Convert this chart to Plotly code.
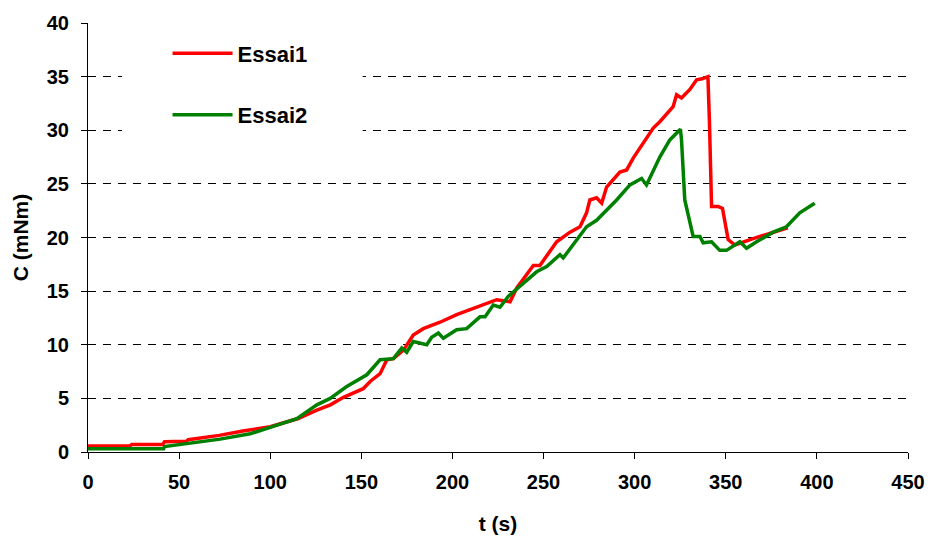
import plotly.graph_objects as go

# Essai1 (red)
t1 = [0, 23, 24, 41, 42, 54, 55, 72, 85, 100, 107, 115, 125.6, 133, 140.2, 151, 155,
      160.3, 164, 167.6, 173.1, 178.5, 184, 193.2, 202.3, 213.3, 220.6, 224.3, 231.6,
      235.3, 244.4, 248, 257.2, 264.5, 270, 273.6, 275.4, 279.1, 281.9, 284.6, 291.9,
      295.6, 299.2, 304.7, 310.2, 313.8, 321.1, 323, 325.7, 330.3, 334, 337, 340.2,
      341, 341.5, 342.2, 345.8, 348.2, 351.3, 355, 365, 376, 384]
c1 = [0.55, 0.55, 0.7, 0.7, 0.95, 1.0, 1.15, 1.55, 1.95, 2.35, 2.7, 3.1, 3.9, 4.4, 5.1,
      5.9, 6.6, 7.3, 8.6, 8.7, 9.5, 10.9, 11.5, 12.1, 12.8, 13.5, 14.0, 14.2, 14.0,
      15.3, 17.4, 17.4, 19.6, 20.5, 21.0, 22.3, 23.5, 23.7, 23.2, 24.7, 26.1,
      26.3, 27.4, 28.8, 30.2, 30.8, 32.2, 33.3, 33.0, 33.8, 34.7, 34.8, 35.0,
      31.0, 26.0, 22.9, 22.9, 22.7, 19.8, 19.3, 19.9, 20.5, 20.9]

# Essai2 (green)
t2 = [0, 41.5, 42, 54.3, 72.5, 89, 100, 114.6, 125.6, 132.9, 142, 153, 160.3, 167.6,
      172.2, 174.9, 178.5, 185.9, 188.6, 192.3, 195, 202.3, 207.8, 215.1, 217.9, 222.4,
      226.1, 230.6, 235.3, 246.2, 251.7, 259, 260.8, 273.6, 279.1, 290.1, 297.4, 303.8,
      306.5, 310.2, 313.8, 319.3, 325.1, 325.7, 327.5, 332.1, 335.8, 337.6, 342.2,
      346.7, 350.4, 357.7, 361.4, 366.9, 376, 383.3, 390.6, 398.8]
c2 = [0.3, 0.3, 0.5, 0.78, 1.2, 1.7, 2.3, 3.1, 4.4, 5.0, 6.1, 7.2, 8.6, 8.7,
      9.7, 9.3, 10.3, 10.0, 10.7, 11.1, 10.6, 11.4, 11.5, 12.6, 12.6, 13.7,
      13.5, 14.5, 15.2, 16.8, 17.3, 18.4, 18.1, 21.0, 21.6, 23.5, 24.9, 25.5,
      24.9, 26.3, 27.5, 29.1, 30.1, 29.1, 23.5, 20.1, 20.1, 19.5, 19.6,
      18.8, 18.8, 19.6, 19.0, 19.6, 20.5, 21.0, 22.3, 23.2]

x_ticks = [0, 50, 100, 150, 200, 250, 300, 350, 400, 450]
y_ticks = [0, 5, 10, 15, 20, 25, 30, 35, 40]

FONT = "Liberation Sans, Arial, sans-serif"

fig = go.Figure()
fig.add_trace(go.Scatter(x=t1, y=c1, mode="lines", name="Essai1", legendgroup="a",
                         line=dict(color="#FF0000", width=3.5)))
fig.add_trace(go.Scatter(x=t2, y=c2, mode="lines", name="Essai2", legendgroup="b",
                         line=dict(color="#008000", width=3.5)))

# white legend area hiding the grid lines behind the legend
fig.add_shape(type="rect", xref="paper", yref="paper",
              x0=0.0415, x1=0.335, y0=0.69, y1=0.96,
              fillcolor="white", line=dict(width=0), layer="above")

fig.update_layout(
    width=928, height=536,
    margin=dict(l=88, r=20, t=23, b=84),
    paper_bgcolor="white", plot_bgcolor="white",
    font=dict(family=FONT, color="black"),
    showlegend=True,
    legend=dict(x=0.097, y=0.978, xanchor="left", yanchor="top",
                bgcolor="rgba(0,0,0,0)", borderwidth=0,
                font=dict(family=FONT, size=22, weight="bold", color="black"),
                itemwidth=60, tracegroupgap=30),
    xaxis=dict(range=[0, 450], tickvals=x_ticks, showgrid=False, zeroline=False,
               showline=True, linecolor="black", linewidth=1,
               ticks="outside", ticklen=6, tickcolor="black", tickwidth=1,
               tickfont=dict(family=FONT, size=20, weight="bold"),
               ticklabelstandoff=6,
               title=dict(text="t (s)", font=dict(family=FONT, size=21, weight="bold"),
                          standoff=24),
               automargin=False),
    yaxis=dict(range=[0, 40], tickvals=y_ticks, showgrid=True, gridcolor="black",
               gridwidth=1, griddash="8px,7px", zeroline=False,
               showline=True, linecolor="black", linewidth=1,
               ticks="outside", ticklen=6, tickcolor="black", tickwidth=1,
               tickfont=dict(family=FONT, size=20, weight="bold"),
               ticklabelstandoff=8,
               title=dict(text="C (mNm)", font=dict(family=FONT, size=21, weight="bold"),
                          standoff=12),
               automargin=False),
)

fig.write_html("out.html",
               config={"displayModeBar": False},
               post_script="document.body.style.margin='0';document.body.style.overflow='hidden';")
